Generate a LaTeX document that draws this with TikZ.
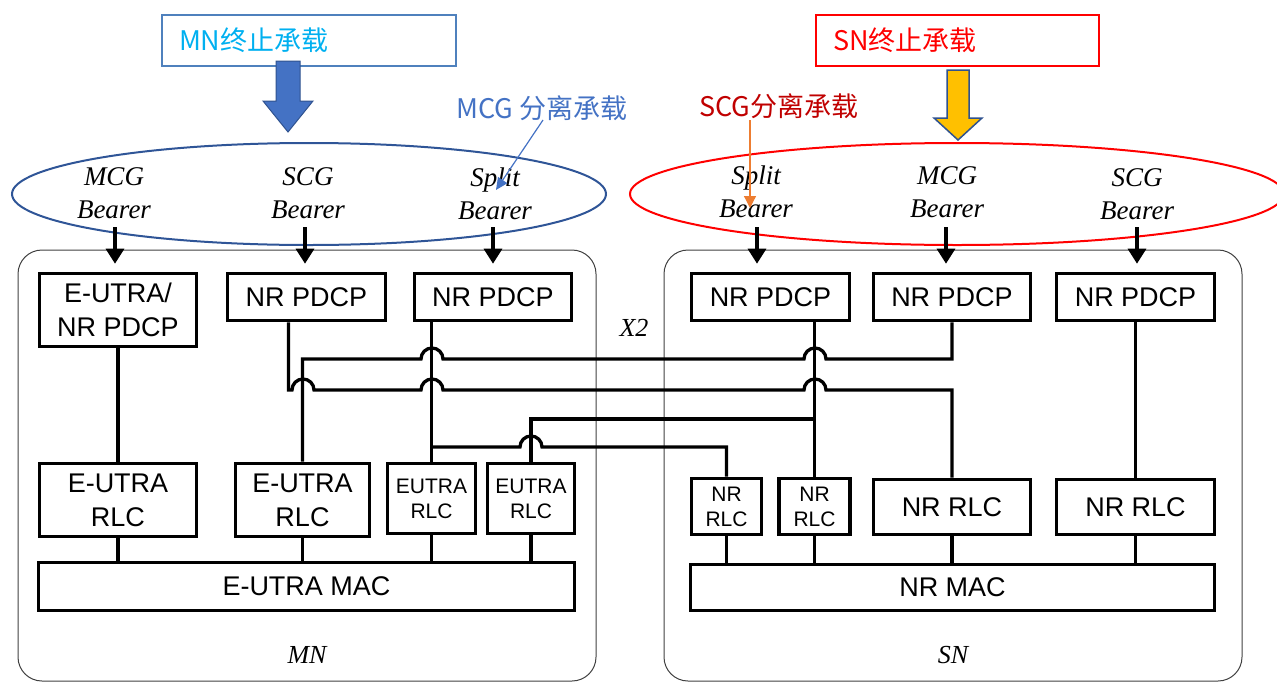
\documentclass[tikz,border=0pt]{standalone}
\usepackage{fontspec}
\setmainfont{Liberation Serif}
\newfontfamily\arial{Liberation Sans}
\newfontfamily\cjk{Noto Sans CJK SC}
\usetikzlibrary{arrows.meta,calc}

\definecolor{mnframe}{HTML}{4F81BD}
\definecolor{mntext}{HTML}{00B0F0}
\definecolor{mnarrow}{HTML}{4472C4}
\definecolor{arrowedge}{HTML}{2F528F}
\definecolor{mnring}{HTML}{2F5597}
\definecolor{snred}{HTML}{FF0000}
\definecolor{scgred}{HTML}{C00000}
\definecolor{snyellow}{HTML}{FFC000}
\definecolor{splitorange}{HTML}{ED7D31}
\definecolor{blockgray}{HTML}{404040}

\tikzset{
  layer/.style={draw, line width=3.6pt, fill=white, inner sep=0pt, align=center,
    font=\arial\fontsize{27}{34}\selectfont},
  smalllayer/.style={layer, font=\arial\fontsize{21}{25}\selectfont},
  wire/.style={line width=3.3pt},
  bearer/.style={inner sep=0pt, align=center, font=\itshape\fontsize{27}{33}\selectfont},
  entity/.style={inner sep=0pt, font=\itshape\fontsize{26}{30}\selectfont},
  bearerarrow/.style={line width=3.3pt, -{Triangle[length=15pt,width=18pt]}, shorten >=8pt},
  nodeblock/.style={draw=blockgray, line width=1pt, rounded corners=24pt},
  termbox/.style={line width=1.3pt, minimum height=51pt, inner xsep=17pt, inner ysep=0pt,
    text width=260pt, align=left, font=\cjk\fontsize{27}{30}\selectfont},
  callout/.style={inner sep=0pt, anchor=west, font=\cjk\fontsize{27}{30}\selectfont},
}

\begin{document}
\begin{tikzpicture}[x=1pt, y=-1pt]
\useasboundingbox (0,0) rectangle (1277,683);

% ---------- MN / SN frames ----------
\draw[nodeblock] (18,250) rectangle (596,681);
\draw[nodeblock] (664,250) rectangle (1242,681);
\node[entity] (mnname) at (307,655) {MN};
\node[entity] (snname) at (953,655) {SN};
\node[entity] (x2) at (634,328) {X2};

% ---------- bearer groups ----------
\draw[mnring, line width=2pt] (309,194) ellipse[x radius=297, y radius=51];
\draw[snred, line width=2pt] (957,194) ellipse[x radius=327, y radius=51];

\node[bearer] (bmcg) at (114,193) {MCG\\Bearer};
\node[bearer] (bscg) at (308,193) {SCG\\Bearer};
\node[bearer] (bsplit) at (495,194) {Split\\Bearer};
\node[bearer] (bssplit) at (756,192) {Split\\Bearer};
\node[bearer] (bsmcg) at (947,192) {MCG\\Bearer};
\node[bearer] (bsscg) at (1137,194) {SCG\\Bearer};

% ---------- termination labels ----------
\node[termbox, draw=mnframe, text=mntext] (mnterm) at (309,40.5) {MN终止承载};
\node[termbox, draw=snred, text=snred, text width=249pt] (snterm) at (957.5,40.5) {SN终止承载};

\filldraw[fill=mnarrow, draw=arrowedge, line width=1pt]
  (276,61) -- (300,61) -- (300,101) -- (313,101) -- (288,132) -- (263,101) -- (276,101) -- cycle;
\filldraw[fill=snyellow, draw=arrowedge, line width=1.5pt]
  (947,70) -- (969,70) -- (969,118) -- (982,118) -- (958,140) -- (934,118) -- (947,118) -- cycle;

\node[callout, text=mnarrow] (mcgsplit) at (456,108) {MCG 分离承载};
\node[callout, text=scgred] (scgsplit) at (699,106) {SCG分离承载};
\coordinate (mcgtip) at (496,190);
\coordinate (scgtip) at (750,208);
\draw[mnarrow, line width=1.2pt, -{Triangle[length=12pt,width=11pt]}] (543,120) -- (mcgtip);
\draw[splitorange, line width=1.2pt, -{Triangle[length=12pt,width=12pt]}] (750,120) -- (scgtip);

% ---------- MN protocol stack ----------
\node[layer, minimum width=157pt, minimum height=73pt] (mpdcp1) at (118,310) {E-UTRA/\\NR PDCP};
\node[layer, minimum width=158pt, minimum height=47pt] (mpdcp2) at (306.5,297) {NR PDCP};
\node[layer, minimum width=157pt, minimum height=47pt] (mpdcp3) at (493,297) {NR PDCP};
\node[layer, minimum width=157pt, minimum height=73pt] (mrlc1) at (118,500) {E-UTRA\\RLC};
\node[layer, minimum width=134pt, minimum height=73pt] (mrlc2) at (302.5,500) {E-UTRA\\RLC};
\node[smalllayer, minimum width=88pt, minimum height=70pt] (mrlc3) at (431.5,498.5) {EUTRA\\RLC};
\node[smalllayer, minimum width=87pt, minimum height=70pt] (mrlc4) at (531,498.5) {EUTRA\\RLC};
\node[layer, minimum width=536pt, minimum height=48pt] (mmac) at (306.5,586.5) {E-UTRA MAC};

% ---------- SN protocol stack ----------
\node[layer, minimum width=158pt, minimum height=47pt] (spdcp1) at (770.5,297) {NR PDCP};
\node[layer, minimum width=157pt, minimum height=47pt] (spdcp2) at (952,297) {NR PDCP};
\node[layer, minimum width=158pt, minimum height=47pt] (spdcp3) at (1135.5,297) {NR PDCP};
\node[smalllayer, minimum width=70pt, minimum height=56pt] (srlc1) at (726.5,506.5) {NR\\RLC};
\node[smalllayer, minimum width=71pt, minimum height=56pt] (srlc2) at (814.5,506.5) {NR\\RLC};
\node[layer, minimum width=157pt, minimum height=55pt] (srlc3) at (952,507) {NR RLC};
\node[layer, minimum width=158pt, minimum height=55pt] (srlc4) at (1135.5,507) {NR RLC};
\node[layer, minimum width=524pt, minimum height=46pt] (smac) at (952.5,587.5) {NR MAC};

% ---------- wires between the stacks ----------
% MN NR PDCP (SCG) to SN NR RLC
\draw[wire] ([xshift=-18pt]mpdcp2.south) |- (292,390)
  arc[start angle=180, end angle=360, radius=11] -- (421,390)
  arc[start angle=180, end angle=360, radius=11] -- (804,390)
  arc[start angle=180, end angle=360, radius=11] -| (srlc3.north);
% SN NR PDCP (MCG) to MN E-UTRA RLC
\draw[wire] (spdcp2.south) |- (826,359)
  arc[start angle=0, end angle=-180, radius=11] -- (443,359)
  arc[start angle=0, end angle=-180, radius=11] -| (mrlc2.north);
% MN split bearer
\coordinate (mjoin) at (431.5,447);
\draw[wire] (mpdcp3.south -| mrlc3.north) -- (mrlc3.north);
\draw[wire] (mjoin) -- (520,447)
  arc[start angle=180, end angle=360, radius=11] -| (srlc1.north);
% SN split bearer
\coordinate (sjoin) at (814.5,419);
\draw[wire] (spdcp1.south -| srlc2.north) -- (srlc2.north);
\draw[wire] (sjoin) -| (mrlc4.north);
% straight PDCP to RLC
\draw[wire] (mpdcp1.south) -- (mrlc1.north);
\draw[wire] (spdcp3.south) -- (srlc4.north);

% RLC to MAC
\foreach \r in {mrlc1,mrlc2,mrlc3,mrlc4}{\draw[wire] (\r.south) -- (\r.south |- mmac.north);}
\foreach \r in {srlc1,srlc2,srlc3,srlc4}{\draw[wire] (\r.south) -- (\r.south |- smac.north);}

% ---------- bearer arrows into PDCP ----------
\coordinate (am1) at (115,227);
\coordinate (am2) at (305,227);
\coordinate (am3) at (493,227);
\coordinate (as1) at (757,227);
\coordinate (as2) at (946,227);
\coordinate (as3) at (1137,227);
\draw[bearerarrow] (am1) -- (am1 |- mpdcp1.north);
\draw[bearerarrow] (am2) -- (am2 |- mpdcp2.north);
\draw[bearerarrow] (am3) -- (am3 |- mpdcp3.north);
\draw[bearerarrow] (as1) -- (as1 |- spdcp1.north);
\draw[bearerarrow] (as2) -- (as2 |- spdcp2.north);
\draw[bearerarrow] (as3) -- (as3 |- spdcp3.north);
\end{tikzpicture}
\end{document}
